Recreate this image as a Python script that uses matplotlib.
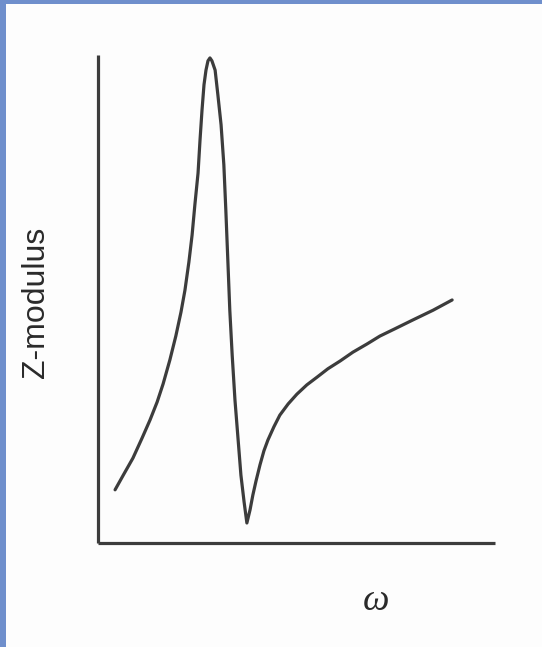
import matplotlib
matplotlib.use("Agg")
import matplotlib.pyplot as plt
from matplotlib.patches import Rectangle

# Data (arbitrary units, axes 0..10)
omega = [0.43, 0.65, 0.88, 1.11, 1.31, 1.49, 1.64, 1.81, 1.96, 2.09, 2.19, 2.29,
         2.37, 2.44, 2.52, 2.57, 2.62, 2.67, 2.72, 2.77, 2.82, 2.87, 2.95, 3.02,
         3.10, 3.17, 3.22, 3.27, 3.32, 3.38, 3.45, 3.53, 3.60, 3.68, 3.75, 3.83,
         3.90, 3.98, 4.08, 4.18, 4.28, 4.43, 4.58, 4.79, 5.01, 5.26, 5.52, 5.79,
         6.10, 6.42, 6.78, 7.10, 7.48, 7.93, 8.44, 8.92]
z_modulus = [1.09, 1.41, 1.74, 2.15, 2.52, 2.89, 3.26, 3.75, 4.24, 4.73, 5.18, 5.76,
             6.31, 6.93, 7.58, 8.26, 8.87, 9.39, 9.69, 9.88, 9.94, 9.88, 9.69, 9.18,
             8.57, 7.75, 6.82, 5.80, 4.77, 3.85, 2.93, 2.11, 1.39, 0.84, 0.41, 0.68,
             0.98, 1.27, 1.60, 1.89, 2.11, 2.38, 2.62, 2.85, 3.05, 3.24, 3.40, 3.57,
             3.73, 3.91, 4.08, 4.24, 4.39, 4.57, 4.77, 4.98]
y_label = "Z-modulus"
x_label = "\u03c9"

W, H = 542, 647
fig = plt.figure(figsize=(W / 100, H / 100), dpi=100)
fig.patch.set_facecolor("#6f8fcc")
# white page
fig.add_artist(Rectangle((6 / W, 0), 1 - 6 / W, 1 - 4 / H, transform=fig.transFigure,
                         facecolor="#fdfdfd", edgecolor="none", zorder=0))

ax = fig.add_axes([98 / W, (H - 543) / H, 397 / W, (543 - 55) / H])
ax.set_facecolor("none")
ax.plot(omega, z_modulus, color="#3c3c3c", lw=2.3, solid_joinstyle="round",
        solid_capstyle="round")
ax.set_xlim(0, 10)
ax.set_ylim(0, 10)
for s in ["top", "right"]:
    ax.spines[s].set_visible(False)
for s in ["left", "bottom"]:
    ax.spines[s].set_color("#3c3c3c")
    ax.spines[s].set_linewidth(2.3)
    ax.spines[s].set_capstyle("butt")
ax.set_xticks([])
ax.set_yticks([])

fig.text(36 / W, 1 - 302 / H, y_label, rotation=90, ha="center", va="center",
         fontsize=23, family="Liberation Sans", color="#2a2a2a")
fig.text(376 / W, 1 - 601 / H, x_label, ha="center", va="center",
         fontsize=27, family="Liberation Serif", style="italic", color="#2a2a2a")

fig.savefig("out.png", dpi=100, facecolor=fig.get_facecolor())
